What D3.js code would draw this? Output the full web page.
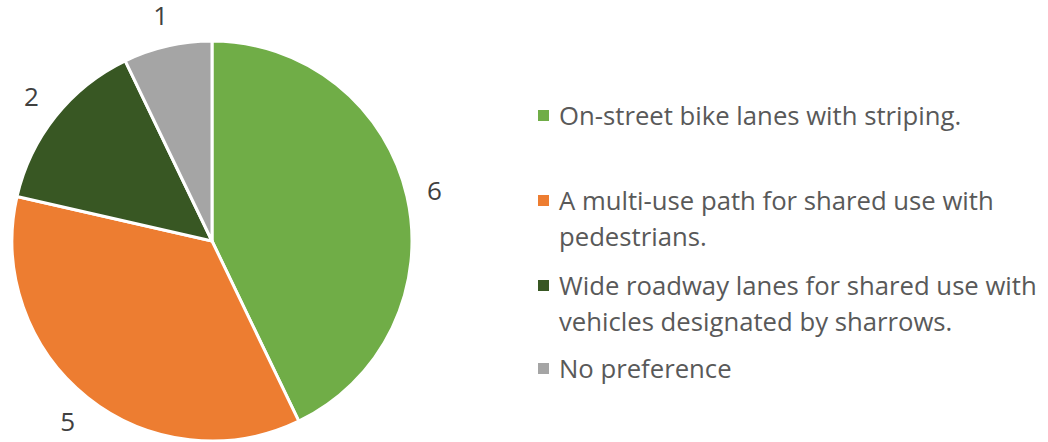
<!DOCTYPE html>
<html>
<head>
<meta charset="utf-8">
<script src="https://cdn.jsdelivr.net/npm/d3@7"></script>
<style>
  body { margin: 0; background: #fff; }
  svg { display: block; font-family: 'Open Sans', 'Noto Sans', sans-serif; }
  .slice-label { font-size: 26px; fill: #404040; }
  .legend-text { font-size: 25.7px; fill: #595959; }
</style>
</head>
<body>
<svg id="chart" width="1048" height="442"></svg>
<script>
// data
var categories = [
  'On-street bike lanes with striping.',
  'A multi-use path for shared use with pedestrians.',
  'Wide roadway lanes for shared use with vehicles designated by sharrows.',
  'No preference'
];
// legend lines as wrapped in the original
var legendLines = [
  ['On-street bike lanes with striping.'],
  ['A multi-use path for shared use with', 'pedestrians.'],
  ['Wide roadway lanes for shared use with', 'vehicles designated by sharrows.'],
  ['No preference']
];
var counts = [6, 5, 2, 1];
var colors = ['#70AD47', '#ED7D31', '#385723', '#A5A5A5'];

var svg = d3.select('#chart');

var cx = 212, cy = 241, radius = 200;
var labelGap = 20;
var labelW = 12, labelH = 20;

var pie = d3.pie().sort(null).value(function(d) { return d; });
var arcs = pie(counts);

var arc = d3.arc().innerRadius(0).outerRadius(radius);

var pieG = svg.append('g').attr('transform', `translate(${cx},${cy})`);

pieG.selectAll('path')
  .data(arcs)
  .enter()
  .append('path')
  .attr('d', arc)
  .attr('fill', function(d, i) { return colors[i]; })
  .attr('stroke', '#fff')
  .attr('stroke-width', 3)
  .attr('stroke-linejoin', 'round');

// outside-end labels: push the label box out so its edge clears the rim
function labelPos(d) {
  var a = (d.startAngle + d.endAngle) / 2;
  var s = Math.sin(a), c = Math.cos(a);
  var ext = Math.abs(s) * labelW / 2 + Math.abs(c) * labelH / 2;
  var r = radius + labelGap + ext;
  return [r * s, -r * c];
}

pieG.selectAll('.slice-label')
  .data(arcs)
  .enter()
  .append('text')
  .attr('class', 'slice-label')
  .attr('transform', function(d) {
    var p = labelPos(d);
    return `translate(${p[0]},${p[1]})`;
  })
  .attr('text-anchor', 'middle')
  .attr('dy', '0.36em')
  .text(function(d) { return d.data; });

// legend
var legendX = 538, textX = 559;
var rowY = [125, 210, 295, 378];   // baseline of first line of each entry
var lineGap = 36;

var legend = svg.append('g').attr('class', 'legend');

var items = legend.selectAll('g')
  .data(categories)
  .enter()
  .append('g');

items.append('rect')
  .attr('x', legendX)
  .attr('y', function(d, i) { return rowY[i] - 15; })
  .attr('width', 11)
  .attr('height', 11)
  .attr('fill', function(d, i) { return colors[i]; });

items.append('text')
  .attr('class', 'legend-text')
  .attr('x', textX)
  .attr('y', function(d, i) { return rowY[i]; })
  .selectAll('tspan')
  .data(function(d, i) { return legendLines[i]; })
  .enter()
  .append('tspan')
  .attr('x', textX)
  .attr('dy', function(d, j) { return j === 0 ? 0 : lineGap; })
  .text(function(d) { return d; });
</script>
</body>
</html>
